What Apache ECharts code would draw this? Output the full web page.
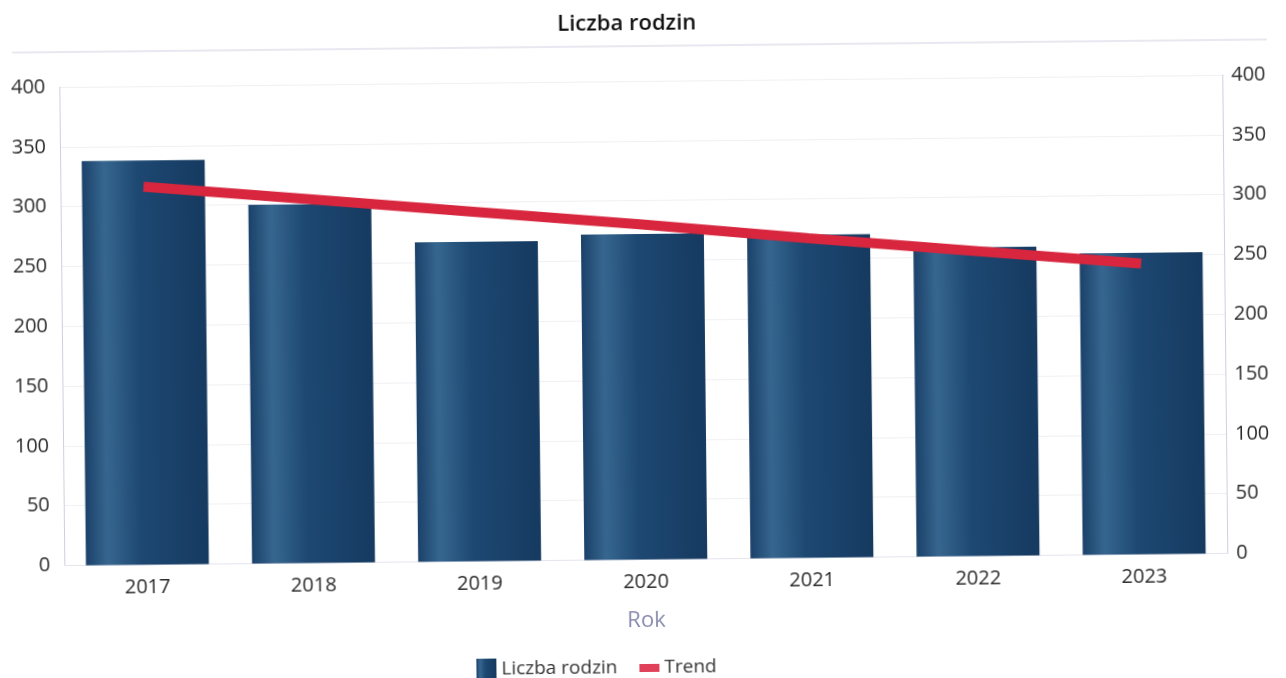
<!DOCTYPE html>
<html>
<head>
<meta charset="utf-8">
<script src="https://cdn.jsdelivr.net/npm/echarts@6/dist/echarts.min.js"></script>
<style>
  html, body { margin: 0; padding: 0; background: #fff; overflow: hidden; }
  #chart { width: 1286px; height: 678px; transform: rotate(-0.6deg); }
</style>
</head>
<body>
<div id="chart"></div>
<script>
const years = ['2017', '2018', '2019', '2020', '2021', '2022', '2023']
const families = [338, 300, 267, 272, 270, 258, 252]
const trend = [316, 304, 292, 280, 267, 255, 243]
const yTicks = { min: 0, max: 400, interval: 50 }

const barColor = new echarts.graphic.LinearGradient(0, 0, 1, 0, [
    { offset: 0, color: '#1b4169' },
    { offset: 0.18, color: '#36668f' },
    { offset: 0.45, color: '#1d4872' },
    { offset: 1, color: '#163a60' }
])

const myChart = echarts.init(document.getElementById('chart'))
const font = 'Open Sans'

myChart.setOption({
    animation: false,
    textStyle: { fontFamily: font },
    title: {
        text: 'Liczba rodzin',
        left: 625,
        textAlign: 'center',
        top: 8,
        textStyle: { fontSize: 22, fontWeight: 600, color: '#111', fontFamily: font }
    },
    graphic: [{
        type: 'line',
        shape: { x1: 15, y1: 46, x2: 1270, y2: 46 },
        style: { stroke: '#e8e8f0', lineWidth: 2 }
    }],
    legend: {
        left: 468,
        top: 652,
        itemGap: 22,
        itemWidth: 20,
        itemHeight: 22,
        textStyle: { fontSize: 19, color: '#333' },
        data: [
            { name: 'Liczba rodzin', icon: 'rect' },
            { name: 'Trend', icon: 'path://M0,0h20v8h-20z', itemStyle: { color: '#e0405a' } }
        ]
    },
    grid: { left: 62, right: 61, top: 81, bottom: 118.5 },
    xAxis: {
        type: 'category',
        data: years,
        name: 'Rok',
        nameLocation: 'middle',
        nameGap: 50,
        nameTextStyle: { fontSize: 22, color: '#8a8cb0' },
        axisLine: { show: true, lineStyle: { color: '#e4e4ee' } },
        axisTick: { show: false },
        axisLabel: { fontSize: 20, color: '#2a2a2a', margin: 13 }
    },
    yAxis: [{
        type: 'value',
        ...yTicks,
        axisLine: { show: true, lineStyle: { color: '#cfcfe0' } },
        axisLabel: { fontSize: 20, color: '#2a2a2a', margin: 14 },
        splitLine: { lineStyle: { color: '#f0f0f5' } }
    }, {
        type: 'value',
        ...yTicks,
        position: 'right',
        axisLine: { show: true, lineStyle: { color: '#cfcfe0' } },
        axisLabel: { fontSize: 20, color: '#2a2a2a', margin: 9 },
        splitLine: { show: false }
    }],
    series: [{
        name: 'Liczba rodzin',
        type: 'bar',
        data: families,
        barWidth: '74%',
        itemStyle: { color: barColor }
    }, {
        name: 'Trend',
        type: 'line',
        data: trend,
        showSymbol: false,
        symbol: 'none',
        lineStyle: { color: '#d7263d', width: 10 },
        itemStyle: { color: '#e0405a' },
        z: 5
    }]
})
</script>
</body>
</html>
